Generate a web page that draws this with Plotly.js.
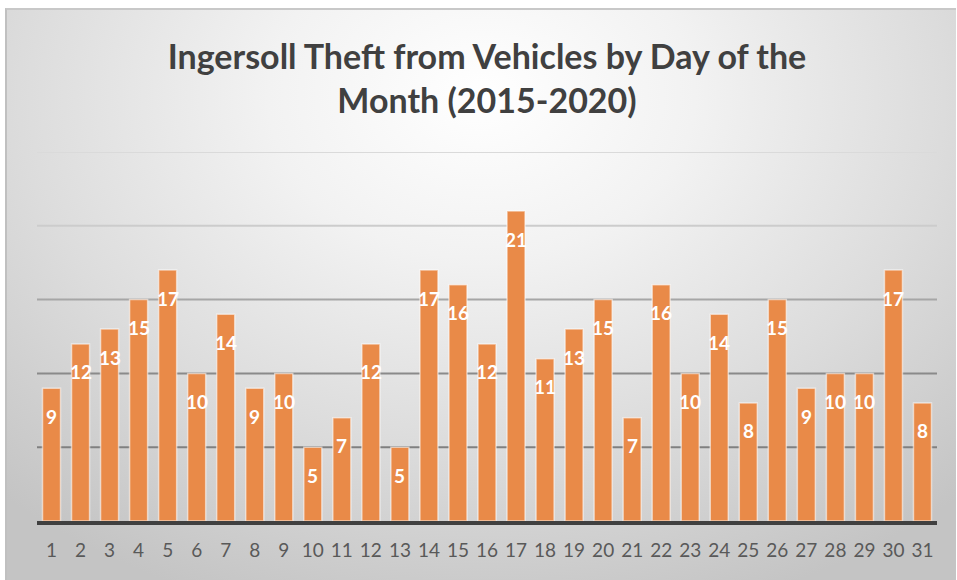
<!DOCTYPE html>
<html>
<head>
<meta charset="utf-8">
<script src="https://cdn.plot.ly/plotly-3.0.1.min.js"></script>
<style>
  html, body { margin: 0; padding: 0; background: #ffffff; width: 957px; height: 580px; overflow: hidden; }
  #bg { position: absolute; left: 5px; top: 8px; width: 951px; height: 572px; box-sizing: border-box;
        border-left: 2px solid #c0c0c0; border-top: 2px solid #c8c8c8;
        background: radial-gradient(ellipse 75% 95% at 50% 15%, #ffffff 0%, #f2f2f2 30%, #dcdcdc 65%, #c4c4c4 100%); }
  #chart { position: absolute; left: 0; top: 0; width: 957px; height: 580px; }
</style>
</head>
<body>
<div id="bg"></div>
<div id="chart"></div>
<script>
const days = ["1","2","3","4","5","6","7","8","9","10","11","12","13","14","15","16","17","18","19","20","21","22","23","24","25","26","27","28","29","30","31"];
const thefts = [9,12,13,15,17,10,14,9,10,5,7,12,5,17,16,12,21,11,13,15,7,16,10,14,8,15,9,10,10,17,8];
const gridValues = [5,10,15,20,25];
const gridColors = ["#808080","#8a8a8a","#a6a6a6","#cccccc","#dadada"];
const titleText = "Ingersoll Theft from Vehicles by Day of the<br>Month (2015-2020)";

const FONT = "Lato, 'Open Sans', sans-serif";

const trace = {
  type: "bar",
  x: days,
  y: thefts,
  marker: { color: "#E98A48", line: { color: "rgba(255,255,255,0.55)", width: 1.5 } },
  hoverinfo: "x+y"
};

// category axis: annotation x given as the category index
const annotations = days.map((d, i) => ({
  x: i, y: thefts[i], xref: "x", yref: "y",
  text: String(thefts[i]), showarrow: false,
  yshift: -28, yanchor: "middle", xanchor: "center",
  font: { family: FONT, size: 19, color: "#ffffff", weight: "bold" }
}));

const shapes = gridValues.map((v, i) => ({
  type: "line", xref: "paper", x0: 0, x1: 1, yref: "y", y0: v, y1: v,
  line: { color: gridColors[i], width: 2 }, layer: "below"
}));

const layout = {
  width: 957, height: 580,
  margin: { l: 37, r: 20, t: 152, b: 59 },
  paper_bgcolor: "rgba(0,0,0,0)",
  plot_bgcolor: "rgba(0,0,0,0)",
  title: {
    text: titleText,
    xref: "paper", x: 0.5, xanchor: "center",
    yref: "container", y: 0.881, yanchor: "middle",
    font: { family: FONT, size: 34, color: "#404040", weight: "bold" }
  },
  bargap: 0.38,
  showlegend: false,
  xaxis: {
    type: "category",
    showline: true, linecolor: "#404040", linewidth: 4,
    showgrid: false, ticks: "", ticklabelstandoff: 9,
    tickfont: { family: FONT, size: 19, color: "#595959" }
  },
  yaxis: {
    range: [0, 25], showticklabels: false, showgrid: false, zeroline: false, showline: false
  },
  shapes: shapes,
  annotations: annotations
};

Plotly.newPlot("chart", [trace], layout, { displayModeBar: false, staticPlot: true });
</script>
</body>
</html>
